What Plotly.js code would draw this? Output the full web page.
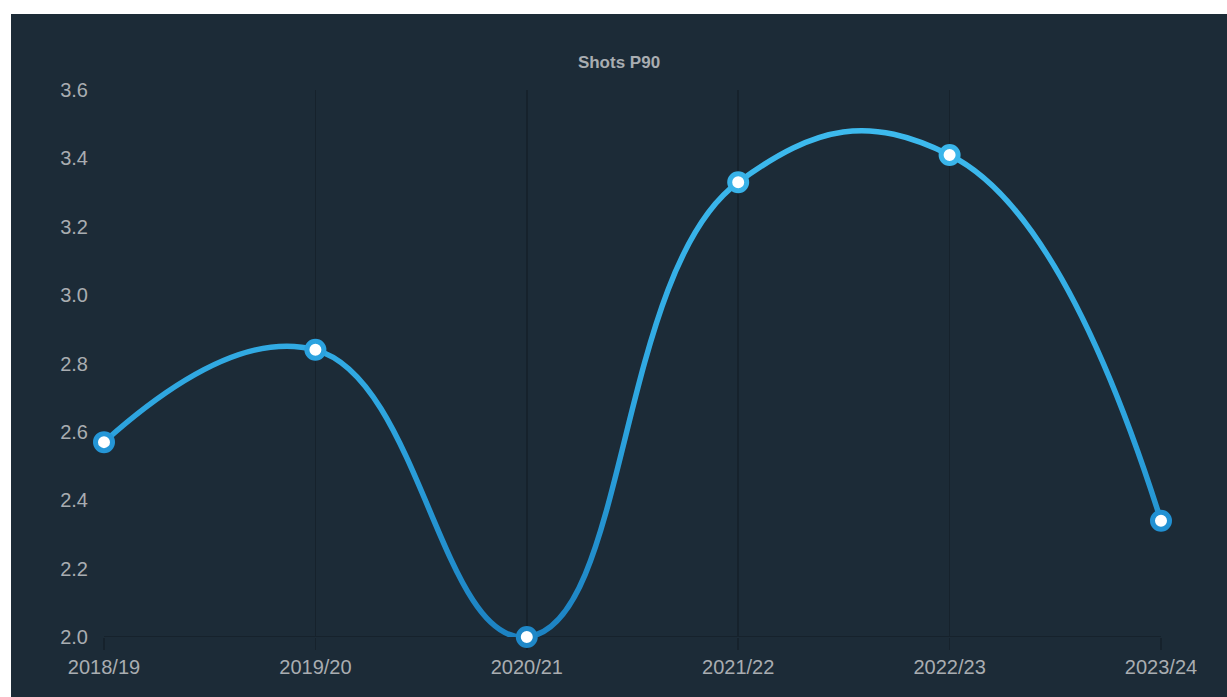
<!DOCTYPE html>
<html>
<head>
<meta charset="utf-8">
<script src="https://cdn.plot.ly/plotly-3.0.1.min.js"></script>
<style>
  html, body { margin: 0; padding: 0; background: #ffffff; width: 1227px; height: 697px; overflow: hidden; }
  #chart { position: absolute; left: 11px; top: 14px; width: 1216px; height: 683px; }
</style>
</head>
<body>
<div id="chart"></div>
<script>
const seasons = ["2018/19", "2019/20", "2020/21", "2021/22", "2022/23", "2023/24"];
const shotsP90 = [2.57, 2.84, 2.0, 3.33, 3.41, 2.34];
const markerEdgeColors = ["#2596d6", "#2ba2df", "#1f88c8", "#38b2e8", "#3ab5ea", "#2291d3"];
const yTicks = [2.0, 2.2, 2.4, 2.6, 2.8, 3.0, 3.2, 3.4, 3.6];

const bg = "#1c2b37";
const gridCol = "#16222c";
const textCol = "#a9adb1";

const trace = {
  x: seasons,
  y: shotsP90,
  type: "scatter",
  mode: "lines+markers",
  line: { shape: "spline", smoothing: 1.3, width: 5.5, color: "#2ba2df" },
  marker: { size: 17, color: "#ffffff", line: { width: 5, color: markerEdgeColors } },
  cliponaxis: false,
  hoverinfo: "x+y"
};

const layout = {
  width: 1216,
  height: 683,
  paper_bgcolor: bg,
  plot_bgcolor: bg,
  margin: { l: 93, r: 66, t: 76, b: 60 },
  showlegend: false,
  font: { family: "Liberation Sans, Arial, sans-serif", color: textCol, size: 20 },
  title: {
    text: "<b>Shots P90</b>",
    font: { family: "Liberation Sans, Arial, sans-serif", size: 17, color: textCol },
    x: 0.5, xanchor: "center", y: 1 - 48 / 683, yanchor: "middle"
  },
  xaxis: {
    type: "category",
    range: [0, 5],
    showgrid: true,
    gridcolor: gridCol,
    gridwidth: 1.5,
    zeroline: false,
    showline: false,
    ticks: "outside",
    ticklen: 12,
    tickwidth: 1.5,
    tickcolor: gridCol,
    tickfont: { size: 20, color: textCol },
    layer: "below traces",
    fixedrange: true
  },
  yaxis: {
    range: [2.0, 3.6],
    tickvals: yTicks,
    ticktext: yTicks.map(v => v.toFixed(1)),
    showgrid: false,
    zeroline: false,
    showline: false,
    ticks: "",
    ticklabelstandoff: 15,
    tickfont: { size: 20, color: textCol },
    layer: "below traces",
    fixedrange: true
  },
  shapes: [
    { type: "line", xref: "paper", yref: "y", x0: 0, x1: 1, y0: 2.0, y1: 2.0,
      line: { color: gridCol, width: 2 }, layer: "below" }
  ]
};

Plotly.newPlot("chart", [trace], layout, { displayModeBar: false, staticPlot: true }).then(gd => {
  const svg = gd.querySelector("svg.main-svg");
  const ns = "http://www.w3.org/2000/svg";
  let defs = svg.querySelector("defs");
  if (!defs) { defs = document.createElementNS(ns, "defs"); svg.insertBefore(defs, svg.firstChild); }
  const grad = document.createElementNS(ns, "linearGradient");
  grad.setAttribute("id", "lineGrad");
  grad.setAttribute("x1", "0"); grad.setAttribute("y1", "0");
  grad.setAttribute("x2", "0"); grad.setAttribute("y2", "1");
  [["0", "#3dbaee"], ["0.55", "#2ea6e0"], ["1", "#1c82c2"]].forEach(([o, c]) => {
    const s = document.createElementNS(ns, "stop");
    s.setAttribute("offset", o); s.setAttribute("stop-color", c);
    grad.appendChild(s);
  });
  defs.appendChild(grad);
  gd.querySelectorAll(".scatterlayer .js-line").forEach(p => { p.style.stroke = "url(#lineGrad)"; });
});
</script>
</body>
</html>
